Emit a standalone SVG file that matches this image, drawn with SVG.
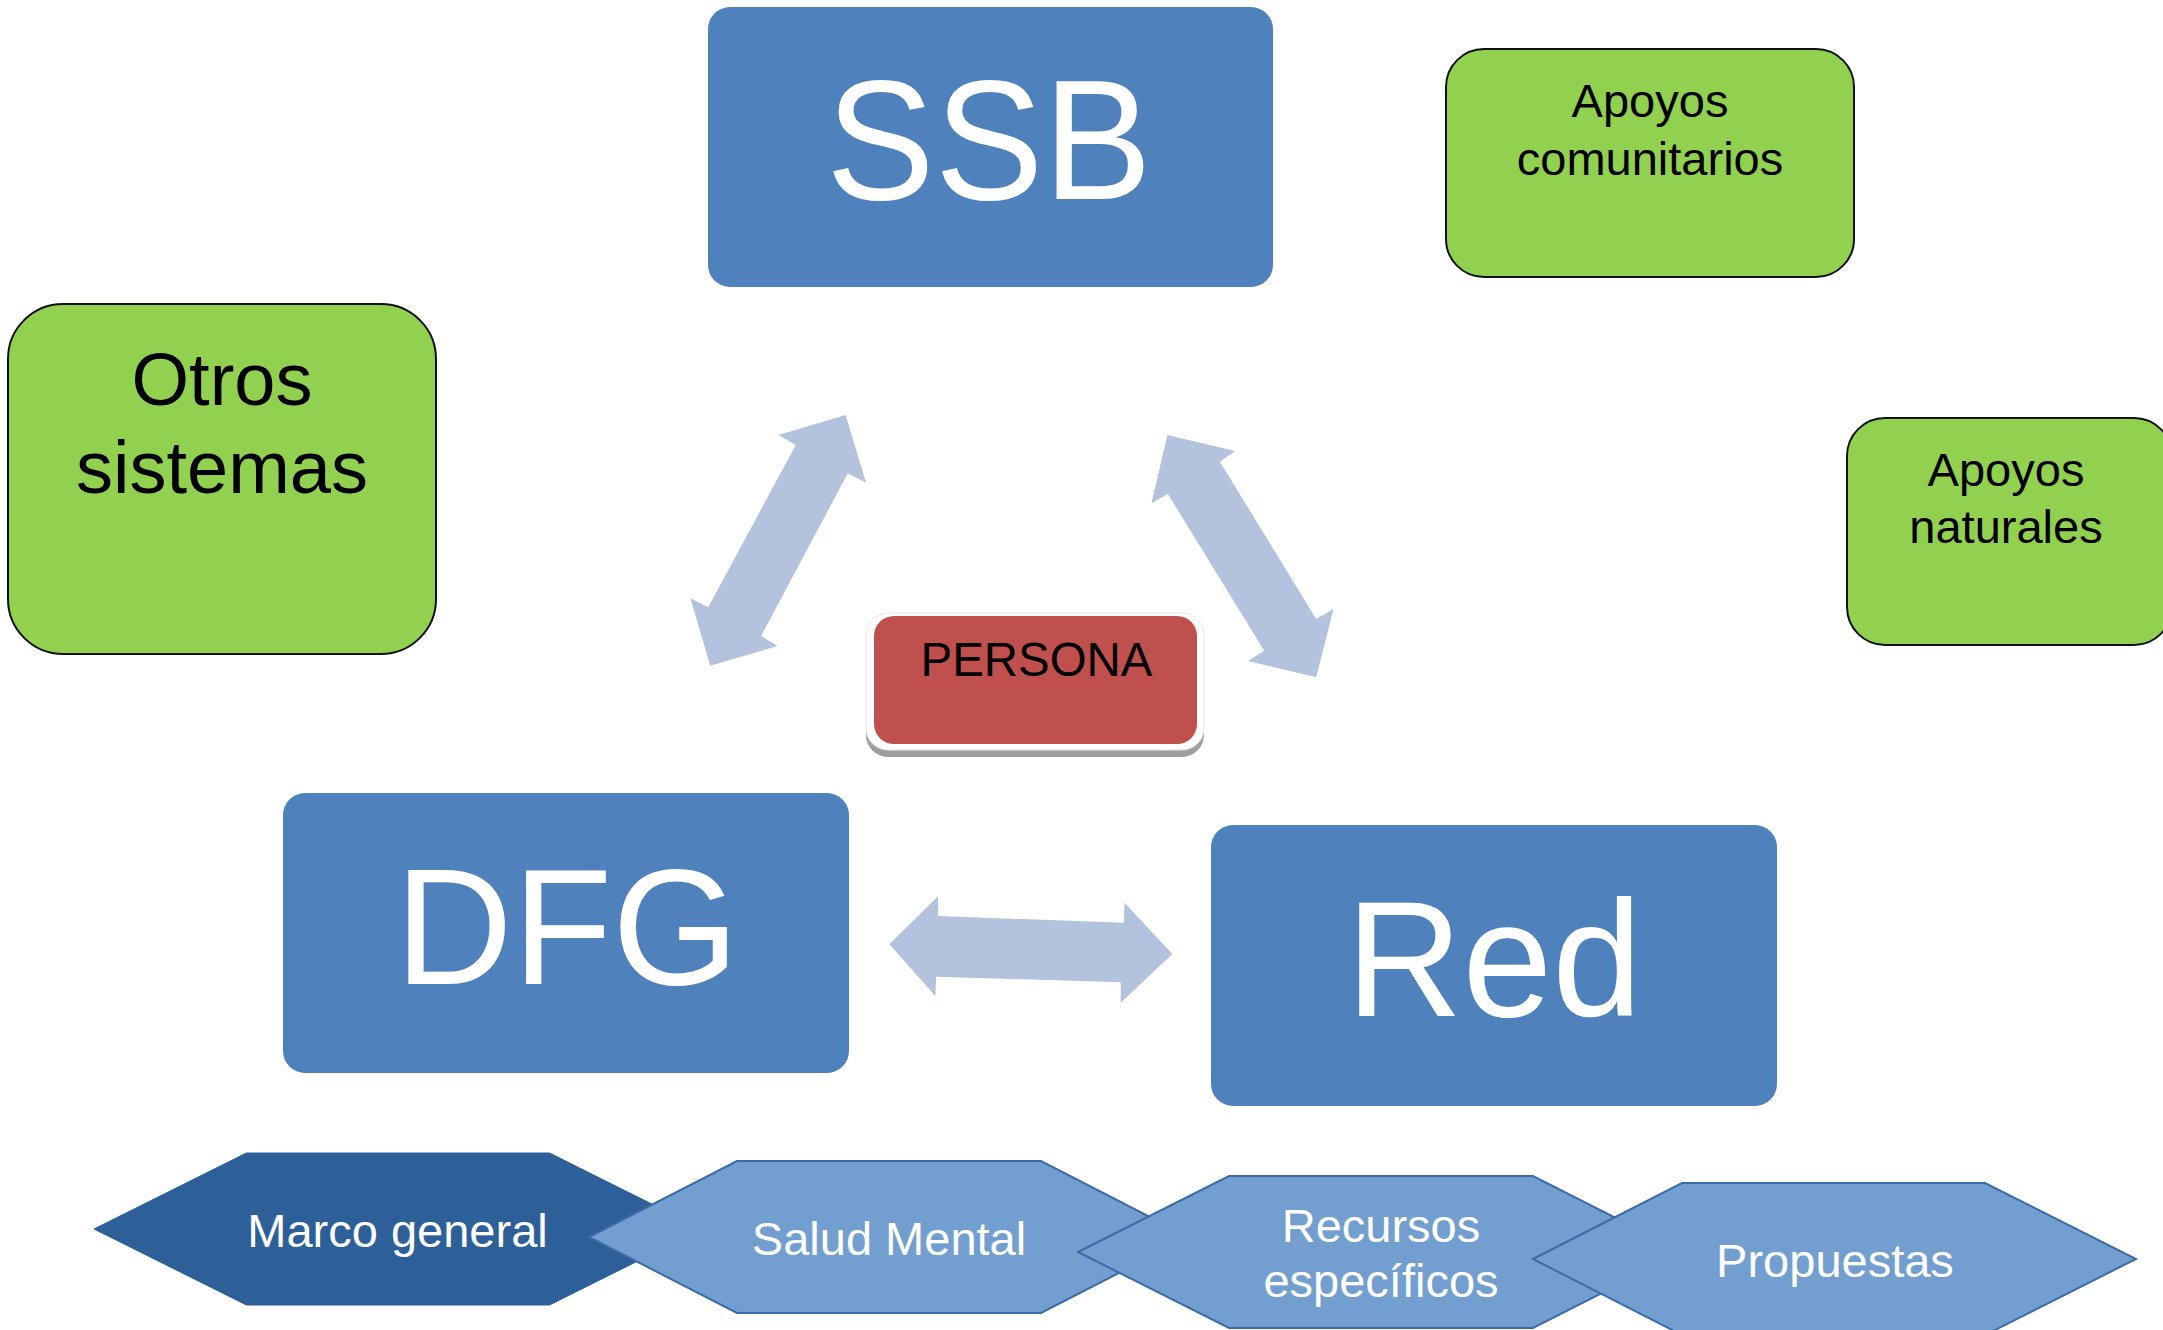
<svg xmlns="http://www.w3.org/2000/svg" width="2163" height="1330" viewBox="0 0 2163 1330">
<style>
.blue{fill:#4F81BD}
.green{fill:#92D050;stroke:#111;stroke-width:2}
.arrow{fill:#B3C2DD}
.hex{fill:#729FCF;stroke:#3E6BA8;stroke-width:2}
.hexd{fill:#2D5F99;stroke:#2D5F99;stroke-width:1}
text{font-family:"Liberation Sans",Arial,sans-serif;text-anchor:middle}
.big{fill:#fff}
.blk{fill:#000}
.wt{fill:#fff;font-size:47px}
</style>
<rect width="2163" height="1330" fill="#fff"/>
<g id="connectors">
<polygon class="arrow" points="845.6,415 866,482.7 847.8,473.3 761.1,636 777.6,646 710.3,665.7 690.4,598.3 708.2,607.3 795.8,445 778.4,435"/>
<polygon class="arrow" points="1167.4,435 1235.1,451 1219.9,461.7 1316.2,619 1333.5,609 1316.2,677.3 1248.1,661 1264.2,650.7 1167.9,494 1151.4,503.3"/>
<polygon class="arrow" points="889.4,944.3 938.2,896 938.2,916 1123.6,922.7 1124.6,902.7 1172.4,954 1120.7,1002.7 1120.7,982.3 936.2,976.7 935.3,996"/>
</g>
<g id="ssb">
<rect class="blue" x="708" y="7" width="565" height="280" rx="22"/>
<text class="big" x="989" y="199" font-size="170" textLength="326" lengthAdjust="spacingAndGlyphs">SSB</text>
</g>
<g id="otros">
<rect class="green" x="8" y="304" width="428" height="350" rx="55"/>
<text class="blk" x="222" y="405" font-size="74">Otros</text>
<text class="blk" x="222" y="493" font-size="74">sistemas</text>
</g>
<g id="apoyos-comunitarios">
<rect class="green" x="1446" y="49" width="408" height="228" rx="38"/>
<text class="blk" x="1650" y="117" font-size="47">Apoyos</text>
<text class="blk" x="1650" y="175" font-size="47">comunitarios</text>
</g>
<g id="apoyos-naturales">
<rect class="green" x="1847" y="418" width="325" height="227" rx="38"/>
<text class="blk" x="2006" y="486" font-size="47">Apoyos</text>
<text class="blk" x="2006" y="543" font-size="47">naturales</text>
</g>
<g id="persona">
<rect x="866" y="620" width="338" height="137" rx="22" fill="#9E9E9E"/>
<rect x="866" y="613" width="338" height="137" rx="22" fill="#fff" stroke="#e6e6e6" stroke-width="1"/>
<rect x="874" y="616" width="323" height="128" rx="20" fill="#C0504D"/>
<text class="blk" x="1036.5" y="676" font-size="48" textLength="232" lengthAdjust="spacingAndGlyphs">PERSONA</text>
</g>
<g id="dfg">
<rect class="blue" x="283" y="793" width="566" height="280" rx="22"/>
<text class="big" x="567" y="984" font-size="166" textLength="344" lengthAdjust="spacingAndGlyphs">DFG</text>
</g>
<g id="red">
<rect class="blue" x="1211" y="825" width="566" height="281" rx="22"/>
<text class="big" x="1494" y="1016" font-size="166" textLength="296" lengthAdjust="spacingAndGlyphs">Red</text>
</g>
<g id="marco">
<polygon class="hexd" points="94,1229 246.4,1153 549.5,1153 702,1229 549.5,1305 246.4,1305"/>
<text class="wt" x="397.5" y="1247">Marco general</text>
</g>
<g id="salud">
<polygon class="hex" points="589,1237 737,1161 1041,1161 1189,1237 1041,1313 737,1313"/>
<text class="wt" x="889" y="1255">Salud Mental</text>
</g>
<g id="recursos">
<polygon class="hex" points="1078,1252 1229,1176 1533,1176 1683,1252 1533,1328 1229,1328"/>
<text class="wt" x="1381" y="1242">Recursos</text>
<text class="wt" x="1381" y="1297">específicos</text>
</g>
<g id="propuestas">
<polygon class="hex" points="1533,1259 1682,1183 1985,1183 2136,1259 1985,1335 1682,1335"/>
<text class="wt" x="1835" y="1277">Propuestas</text>
</g>
</svg>
